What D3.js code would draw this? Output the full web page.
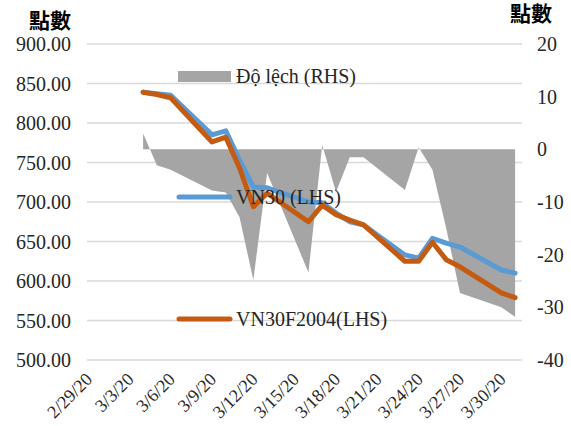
<!DOCTYPE html>
<html>
<head>
<meta charset="utf-8">
<script src="https://cdn.jsdelivr.net/npm/d3@7"></script>
<style>
  body { margin: 0; background: #fff; }
  svg text { font-family: "Liberation Serif", "Tinos", "Times New Roman", "DejaVu Serif", serif; fill: #262626; }
  svg text.cjk { font-family: "Noto Sans CJK TC", "Noto Sans CJK SC", sans-serif; font-weight: bold; fill: #000; }
</style>
</head>
<body>
<div id="chart"></div>
<script>
// trading days shown on the chart
const dates = ["3/4/20","3/5/20","3/6/20","3/9/20","3/10/20","3/11/20","3/12/20","3/13/20",
  "3/16/20","3/17/20","3/18/20","3/19/20","3/20/20","3/23/20","3/24/20","3/25/20",
  "3/26/20","3/27/20","3/30/20","3/31/20"];
const vn30 = [839, 837, 835, 785, 790, 753, 719, 718, 700, 699, 686, 675, 671,
  633, 629, 654, 648, 643, 614, 610];
const vn30f = [839, 836, 832, 776, 782, 743, 694, 711, 675, 696, 684, 677, 671,
  625, 625, 649, 627, 618, 585, 579];
const doLech = [3, -3, -3.9, -7.8, -8.2, -12.9, -24.8, -4.5, -23.4, 0.8, -8.1, -1.5, -1.5,
  -7.7, 0.4, -3.9, -15, -27.3, -30, -31.8];
const tickLabels = ["2/29/20","3/3/20","3/6/20","3/9/20","3/12/20","3/15/20","3/18/20",
  "3/21/20","3/24/20","3/27/20","3/30/20"];
const leftTicks = [500, 550, 600, 650, 700, 750, 800, 850, 900];
const rightTicks = [-40, -30, -20, -10, 0, 10, 20];

const W = 571, H = 426;
const serif = "'Liberation Serif', Tinos, 'Times New Roman', 'DejaVu Serif', serif";
const parse = d3.timeParse("%m/%d/%y");

const svg = d3.select("#chart").append("svg")
  .attr("width", W).attr("height", H);

const x = d3.scaleTime()
  .domain([parse("2/29/20"), d3.timeHour.offset(parse("3/31/20"), 12)])
  .range([88, 522]);
const yL = d3.scaleLinear().domain([500, 900]).range([360, 44]);
const yR = d3.scaleLinear().domain([-40, 20]).range([360, 44]);

// gridlines
svg.append("g").selectAll("line")
  .data(leftTicks)
  .enter().append("line")
  .attr("x1", 87).attr("x2", 522)
  .attr("y1", d => yL(d)).attr("y2", d => yL(d))
  .style("stroke", "#d9d9d9")
  .style("stroke-width", "1.4px");

const rows = dates.map((d, i) => ({ date: parse(d), a: vn30[i], b: vn30f[i], c: doLech[i] }));

// area (RHS)
svg.append("path")
  .datum(rows)
  .attr("d", d3.area().x(d => x(d.date)).y0(yR(0)).y1(d => yR(d.c)))
  .style("fill", "#a5a5a5");

const lineStyle = (sel, color) => sel
  .style("fill", "none")
  .style("stroke", color)
  .style("stroke-width", "5px")
  .style("stroke-linejoin", "round")
  .style("stroke-linecap", "round");

svg.append("path")
  .datum(rows)
  .attr("d", d3.line().x(d => x(d.date)).y(d => yL(d.a)))
  .call(lineStyle, "#5b9bd5");

svg.append("path")
  .datum(rows)
  .attr("d", d3.line().x(d => x(d.date)).y(d => yL(d.b)))
  .call(lineStyle, "#c55a11");

// left axis labels
svg.append("g").selectAll("text")
  .data(leftTicks)
  .enter().append("text")
  .attr("x", 71).attr("y", d => yL(d))
  .attr("dy", "0.35em")
  .style("font-family", serif)
  .style("text-anchor", "end")
  .style("font-size", "20px")
  .text(d => d3.format(".2f")(d));

// right axis labels
svg.append("g").selectAll("text")
  .data(rightTicks)
  .enter().append("text")
  .attr("x", 537).attr("y", d => yR(d))
  .attr("dy", "0.35em")
  .style("font-family", serif)
  .style("text-anchor", "start")
  .style("font-size", "20px")
  .text(d => d);

// x labels
svg.append("g").selectAll("text")
  .data(tickLabels)
  .enter().append("text")
  .attr("transform", d => `translate(${x(parse(d)) + 1},376) rotate(-45)`)
  .attr("dy", "0.35em")
  .style("font-family", serif)
  .style("text-anchor", "end")
  .style("font-size", "18px")
  .text(d => d);

// axis titles
svg.append("text").attr("class", "cjk")
  .attr("x", 29).attr("y", 28).style("font-size", "21px").text("點數");
svg.append("text").attr("class", "cjk")
  .attr("x", 510).attr("y", 21).style("font-size", "21px").text("點數");

// legend
const legend = svg.append("g").style("font-family", serif);
legend.append("rect")
  .attr("x", 178).attr("y", 71).attr("width", 53).attr("height", 11)
  .style("fill", "#a5a5a5");
legend.append("text").attr("x", 236).attr("y", 83)
  .style("font-family", serif)
  .style("font-size", "20px").text("Độ lệch (RHS)");

legend.append("line")
  .attr("x1", 179).attr("x2", 230).attr("y1", 197).attr("y2", 197)
  .call(lineStyle, "#5b9bd5");
legend.append("text").attr("x", 236).attr("y", 204)
  .style("font-family", serif)
  .style("font-size", "20px").text("VN30 (LHS)");

legend.append("line")
  .attr("x1", 179).attr("x2", 230).attr("y1", 319).attr("y2", 319)
  .call(lineStyle, "#c55a11");
legend.append("text").attr("x", 236).attr("y", 326)
  .style("font-family", serif)
  .style("font-size", "20px").text("VN30F2004(LHS)");
</script>
</body>
</html>
